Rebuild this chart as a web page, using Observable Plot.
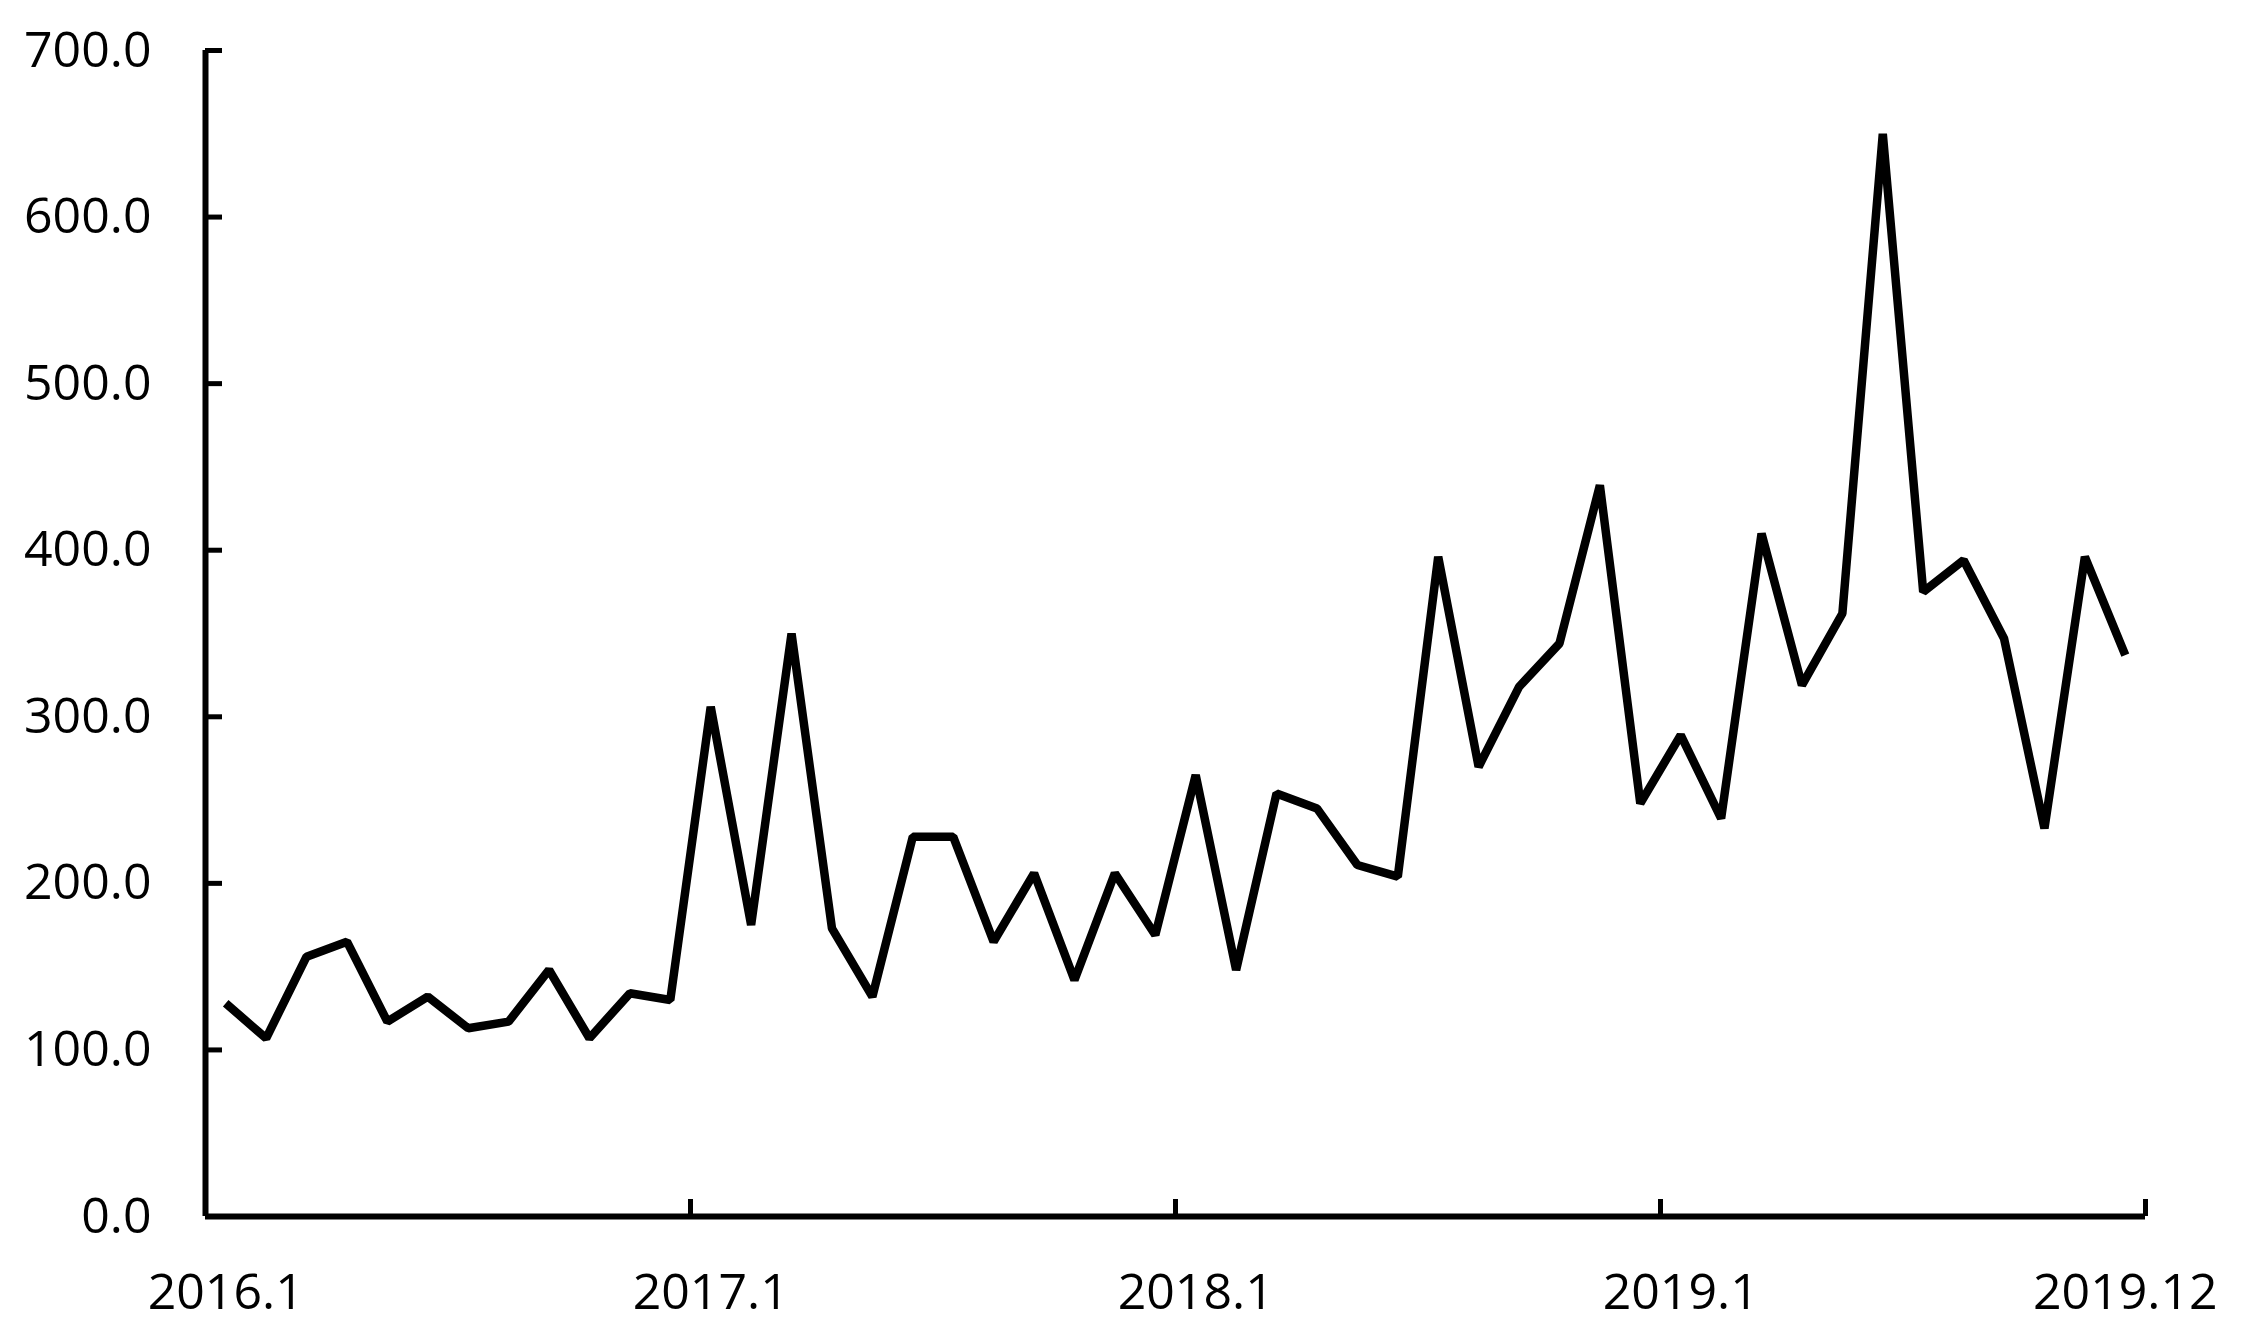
<!DOCTYPE html>
<html>
<head>
<meta charset="utf-8">
<script src="https://cdn.jsdelivr.net/npm/d3@7"></script>
<script src="https://cdn.jsdelivr.net/npm/@observablehq/plot@0.6"></script>
<style>
  html, body { margin: 0; padding: 0; background: #fff; }
  #chart svg { display: block; }
</style>
</head>
<body>
<div id="chart"></div>
<script>
// Monthly categories 2016.1 – 2019.12
const months = [
  "2016.1","2016.2","2016.3","2016.4","2016.5","2016.6","2016.7","2016.8","2016.9","2016.10","2016.11","2016.12",
  "2017.1","2017.2","2017.3","2017.4","2017.5","2017.6","2017.7","2017.8","2017.9","2017.10","2017.11","2017.12",
  "2018.1","2018.2","2018.3","2018.4","2018.5","2018.6","2018.7","2018.8","2018.9","2018.10","2018.11","2018.12",
  "2019.1","2019.2","2019.3","2019.4","2019.5","2019.6","2019.7","2019.8","2019.9","2019.10","2019.11","2019.12"
];

// Series values
const values = [
  128, 107, 156, 165, 117, 132, 113, 117, 148, 107, 134, 130,
  306, 175, 350, 173, 132, 228, 228, 165, 206, 142, 206, 169,
  265, 148, 254, 245, 211, 204, 396, 270, 318, 344, 439, 248,
  289, 239, 410, 319, 362, 650, 375, 394, 347, 233, 396, 337
];

// Axis tick labels
const xTickLabels = ["2016.1", "2017.1", "2018.1", "2019.1", "2019.12"];
const xTickBoundaries = ["2016.1", "2017.1", "2018.1", "2019.1"]; // tick marks before these months, plus the end
const yTicks = [0, 100, 200, 300, 400, 500, 600, 700];

const data = months.map((m, i) => ({i, month: m, value: values[i]}));
const boundaryTicks = [...xTickBoundaries.map(m => months.indexOf(m) - 0.5), months.length - 0.5];
const labelTicks = xTickLabels.map(m => months.indexOf(m));

const font = "'Open Sans', 'Liberation Sans', sans-serif";

const chart = Plot.plot({
  width: 2241,
  height: 1338,
  marginLeft: 205,
  marginRight: 96,
  marginTop: 50,
  marginBottom: 122,
  style: {fontFamily: font, fontSize: "50px", color: "#000", background: "#fff", overflow: "visible"},
  x: {type: "linear", domain: [-0.5, months.length - 0.5], label: null},
  y: {domain: [0, 700], label: null},
  marks: [
    Plot.axisY({ticks: yTicks, tickFormat: d => d.toFixed(1), tickSize: -17, tickPadding: 71,
      strokeWidth: 5, fontSize: 50, label: null, fill: "#000"}),
    Plot.axisX({ticks: boundaryTicks, tickFormat: () => "", tickSize: -17, tickPadding: 0,
      strokeWidth: 5, label: null}),
    Plot.axisX({ticks: labelTicks, tickFormat: i => months[i], tickSize: 0, tickPadding: 57,
      fontSize: 50, label: null, fill: "#000"}),
    Plot.ruleX([-0.5], {stroke: "#000", strokeWidth: 6}),
    Plot.ruleY([0], {stroke: "#000", strokeWidth: 6}),
    Plot.lineY(data, {x: "i", y: "value", stroke: "#000", strokeWidth: 8.5,
      strokeLinejoin: "miter", strokeLinecap: "butt"})
  ]
});

document.getElementById("chart").appendChild(chart);
</script>
</body>
</html>
